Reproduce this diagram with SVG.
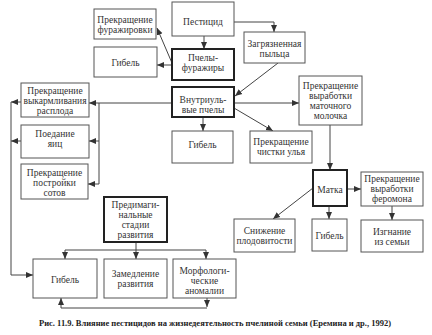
<svg xmlns="http://www.w3.org/2000/svg" width="432" height="335" viewBox="0 0 432 335">
<style>
.b{fill:#fff;stroke:#555;stroke-width:1}
.bb{fill:#fff;stroke:#222;stroke-width:2}
text{font-family:"Liberation Serif","Times New Roman",serif;font-size:9.5px;fill:#333;text-anchor:middle}
.c{fill:none;stroke:#444;stroke-width:1}
.cap{font-weight:bold;font-size:9px;fill:#222;text-anchor:start}
</style>
<defs>
<marker id="a" markerUnits="userSpaceOnUse" markerWidth="8" markerHeight="8" viewBox="0 0 8 8" refX="7" refY="4" orient="auto">
<path d="M0,1 L7,4 L0,7 Z" fill="#333"/>
</marker>
</defs>
<rect width="432" height="335" fill="#fff"/>
<g id="connectors">
<path class="c" d="M204,36 V49" marker-end="url(#a)"/>
<path class="c" d="M234,22 H274 V32" marker-end="url(#a)"/>
<path class="c" d="M172,63 L157,28" marker-end="url(#a)"/>
<path class="c" d="M172,65 H157" marker-end="url(#a)"/>
<path class="c" d="M278,63 L235,96" marker-end="url(#a)"/>
<path class="c" d="M172,103 H89" marker-end="url(#a)"/>
<path class="c" d="M99,103 V184 H88" marker-end="url(#a)"/>
<path class="c" d="M99,141 H89" marker-end="url(#a)"/>
<path class="c" d="M21,102 H11" marker-end="url(#a)"/>
<path class="c" d="M21,141 H11" marker-end="url(#a)"/>
<path class="c" d="M11,102 V275 H33" marker-end="url(#a)"/>
<path class="c" d="M203,117 V131" marker-end="url(#a)"/>
<path class="c" d="M234,103 H299" marker-end="url(#a)"/>
<path class="c" d="M234,108 L273,131" marker-end="url(#a)"/>
<path class="c" d="M330,125 V170" marker-end="url(#a)"/>
<path class="c" d="M347,189 H361" marker-end="url(#a)"/>
<path class="c" d="M392,206 V220" marker-end="url(#a)"/>
<path class="c" d="M329,206 V219" marker-end="url(#a)"/>
<path class="c" d="M313,188 L273,219" marker-end="url(#a)"/>
<path class="c" d="M136,242 V259" marker-end="url(#a)"/>
<path class="c" d="M65,250 H206"/>
<path class="c" d="M65,250 V259" marker-end="url(#a)"/>
<path class="c" d="M206,250 V259" marker-end="url(#a)"/>
<path class="c" d="M207,298 V307" marker-end="url(#a)"/>
<path class="c" d="M207,308 H61 V298" marker-end="url(#a)"/>
</g>
<g id="pesticid"><rect class="b" x="172" y="2" width="62" height="34"/><text x="203" y="25">Пестицид</text></g>
<g id="stop-forage"><rect class="b" x="94" y="9" width="62" height="30"/><text x="125" y="23">Прекращение</text><text x="125" y="33">фуражировки</text></g>
<g id="death1"><rect class="b" x="94" y="47" width="63" height="30"/><text x="125.5" y="66">Гибель</text></g>
<g id="foragers"><rect class="bb" x="172" y="49" width="62" height="31"/><text x="203" y="60.5">Пчелы-</text><text x="203" y="71">фуражиры</text></g>
<g id="pollen"><rect class="b" x="244" y="32" width="61" height="31"/><text x="274.5" y="47">Загрязненная</text><text x="274.5" y="57">пыльца</text></g>
<g id="hive-bees"><rect class="bb" x="172" y="87" width="62" height="30"/><text x="203" y="102.5">Внутриуль-</text><text x="203" y="113">вые пчелы</text></g>
<g id="death2"><rect class="b" x="172" y="131" width="61" height="32"/><text x="202.5" y="147.5">Гибель</text></g>
<g id="stop-clean"><rect class="b" x="250" y="131" width="62" height="32"/><text x="281" y="145">Прекращение</text><text x="281" y="155">чистки улья</text></g>
<g id="stop-jelly"><rect class="b" x="299" y="76" width="63" height="49"/><text x="330.5" y="89">Прекращение</text><text x="330.5" y="99">выработки</text><text x="330.5" y="109">маточного</text><text x="330.5" y="119">молочка</text></g>
<g id="queen"><rect class="bb" x="313" y="170" width="34" height="36"/><text x="330" y="192.5">Матка</text></g>
<g id="stop-pheromone"><rect class="b" x="361" y="172" width="62" height="34"/><text x="392" y="181.5">Прекращение</text><text x="392" y="191.5">выработки</text><text x="392" y="201.5">феромона</text></g>
<g id="expel"><rect class="b" x="361" y="220" width="62" height="32"/><text x="392" y="235">Изгнание</text><text x="392" y="245">из семьи</text></g>
<g id="death3"><rect class="b" x="312" y="219" width="35" height="32"/><text x="329.5" y="238.5">Гибель</text></g>
<g id="fertility"><rect class="b" x="234" y="219" width="61" height="33"/><text x="264.5" y="234">Снижение</text><text x="264.5" y="244">плодовитости</text></g>
<g id="stop-feed"><rect class="b" x="21" y="83" width="68" height="34"/><text x="55" y="93.5">Прекращение</text><text x="55" y="103.5">выкармливания</text><text x="55" y="113.5">расплода</text></g>
<g id="eggs"><rect class="b" x="21" y="125" width="68" height="33"/><text x="55" y="137">Поедание</text><text x="55" y="147">яиц</text></g>
<g id="stop-comb"><rect class="b" x="21" y="164" width="67" height="35"/><text x="54.5" y="175.5">Прекращение</text><text x="54.5" y="185.5">постройки</text><text x="54.5" y="195.5">сотов</text></g>
<g id="preimaginal"><rect class="bb" x="104" y="197" width="63" height="45"/><text x="135.5" y="208">Предимаги-</text><text x="135.5" y="218">нальные</text><text x="135.5" y="228">стадии</text><text x="135.5" y="238">развития</text></g>
<g id="death4"><rect class="b" x="33" y="259" width="64" height="39"/><text x="65" y="282.5">Гибель</text></g>
<g id="slow"><rect class="b" x="104" y="259" width="63" height="39"/><text x="135.5" y="277">Замедление</text><text x="135.5" y="287">развития</text></g>
<g id="morph"><rect class="b" x="173" y="259" width="63" height="39"/><text x="204.5" y="274">Морфологи-</text><text x="204.5" y="284">ческие</text><text x="204.5" y="294">аномалии</text></g>
<text class="cap" x="39" y="326" textLength="352" lengthAdjust="spacingAndGlyphs">Рис. 11.9. Влияние пестицидов на жизнедеятельность пчелиной семьи (Еремина и др., 1992)</text>
</svg>
